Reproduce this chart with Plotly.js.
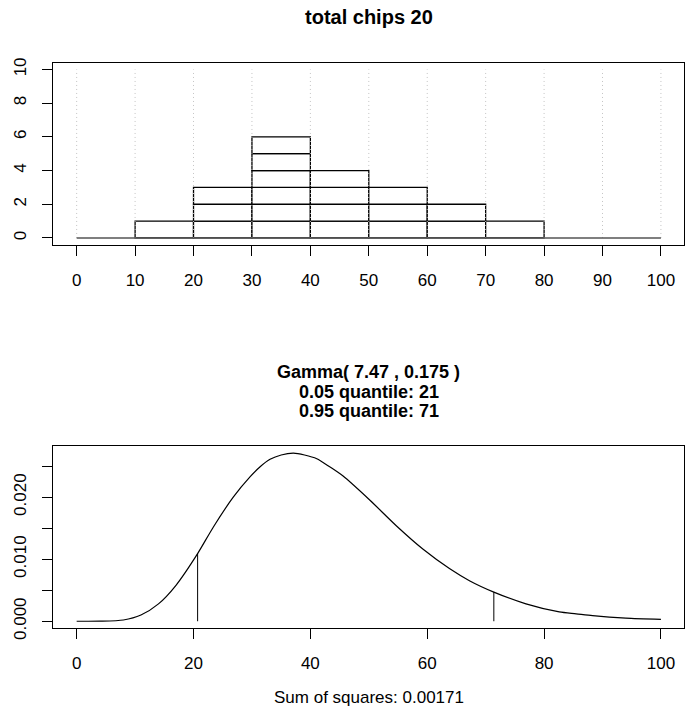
<!DOCTYPE html>
<html>
<head>
<meta charset="utf-8">
<script src="https://cdn.plot.ly/plotly-3.0.1.min.js"></script>
<style>html,body{margin:0;padding:0;background:#fff;}#chart{width:685px;height:715px;}</style>
</head>
<body>
<div id="chart"></div>
<script>
// ---- data ----
var binStarts = [10, 20, 30, 40, 50, 60, 70];
var binCounts = [1, 3, 6, 4, 3, 2, 1];
var binWidth = 10;
var gridX = [0, 10, 20, 30, 40, 50, 60, 70, 80, 90, 100];
var histXTicks = [0, 10, 20, 30, 40, 50, 60, 70, 80, 90, 100];
var histYTicks = [0, 2, 4, 6, 8, 10];

var curveX = [0, 4, 8, 11, 14, 17, 20.7, 23.4, 26.8, 29.7, 31.4, 33.1, 35, 37.1, 39, 41.1, 43.3, 45.6, 50.2, 54.7, 59.3, 63.8, 67.3, 71.4, 76.9, 82.6, 85.5, 88.3, 94, 100];
var curveY = [0, 0.00001, 0.0002, 0.0010, 0.0028, 0.0058, 0.0109, 0.0152, 0.0200, 0.0233, 0.0249, 0.0261, 0.0268, 0.0271, 0.0268, 0.0262, 0.0249, 0.0234, 0.0195, 0.0154, 0.0116, 0.0085, 0.0065, 0.0047, 0.0028, 0.0015, 0.0012, 0.0009, 0.0005, 0.0003];
var quantileX = [20.7, 71.4];
var quantileY = [0.0109, 0.0047];
var densXTicks = [0, 20, 40, 60, 80, 100];
var densYTicks = [0, 0.005, 0.010, 0.015, 0.020, 0.025];
var densYLabels = ['0.000', '', '0.010', '', '0.020', ''];

var titleTop = 'total chips 20';
var titleBottom = ['Gamma( 7.47 , 0.175 )', '0.05 quantile: 21', '0.95 quantile: 71'];
var subBottom = 'Sum of squares: 0.00171';

// ---- build traces ----
var FONT = 'Liberation Sans, Arial, Helvetica, sans-serif';
var chipX = [], chipBase = [], chipY = [], chipW = [];
binStarts.forEach(function (s, i) {
  for (var k = 0; k < binCounts[i]; k++) {
    chipX.push(s + binWidth / 2);
    chipBase.push(k);
    chipY.push(1);
    chipW.push(binWidth);
  }
});
var gx = [], gy = [];
gridX.forEach(function (x) { gx.push(x, x, null); gy.push(0, histYTicks[histYTicks.length - 1], null); });
var qx = [], qy = [];
quantileX.forEach(function (x, i) { qx.push(x, x, null); qy.push(0, quantileY[i], null); });

var traces = [
  {type: 'scatter', mode: 'lines', x: gx, y: gy, xaxis: 'x', yaxis: 'y',
   line: {color: '#c4c4c4', width: 1, dash: '1px,3px'}, hoverinfo: 'skip'},
  {type: 'scatter', mode: 'lines', x: [gridX[0], gridX[gridX.length - 1]], y: [0, 0], xaxis: 'x', yaxis: 'y',
   line: {color: '#555555', width: 1.5}, hoverinfo: 'skip'},
  {type: 'bar', x: chipX, y: chipY, base: chipBase, width: chipW, xaxis: 'x', yaxis: 'y',
   marker: {color: 'rgba(255,255,255,1)', line: {color: '#000000', width: 1.3}}},
  {type: 'scatter', mode: 'lines', x: curveX, y: curveY, xaxis: 'x2', yaxis: 'y2',
   line: {color: '#000000', width: 1.2, shape: 'spline', smoothing: 0.7}},
  {type: 'scatter', mode: 'lines', x: qx, y: qy, xaxis: 'x2', yaxis: 'y2',
   line: {color: '#000000', width: 1}}
];

var W = 685, H = 715;
var boxL = 53.3, boxR = 684.3;
function py(px) { return 1 - px / H; }
var common = {
  showline: true, mirror: true, linecolor: '#000', linewidth: 1,
  ticks: 'outside', ticklen: 10, tickwidth: 1, tickcolor: '#000',
  showgrid: false, zeroline: false, automargin: false,
  tickfont: {family: FONT, size: 17, color: '#000'}
};
function ax(extra) { var o = {}; for (var k in common) o[k] = common[k]; for (var j in extra) o[j] = extra[j]; return o; }

var layout = {
  width: W, height: H,
  margin: {l: 0, r: 0, t: 0, b: 0, pad: 0},
  paper_bgcolor: '#fff', plot_bgcolor: '#fff',
  showlegend: false, barmode: 'overlay',
  font: {family: FONT, color: '#000'},
  xaxis: ax({domain: [boxL / W, boxR / W], range: [-4, 104], tickmode: 'array', tickvals: histXTicks, anchor: 'y', ticklabelstandoff: 10}),
  yaxis: ax({domain: [py(244.7), py(62.7)], range: [-0.4, 10.4], tickmode: 'array', tickvals: histYTicks, tickangle: -90, anchor: 'x', ticklabelstandoff: 10}),
  xaxis2: ax({domain: [boxL / W, boxR / W], range: [-4, 104], tickmode: 'array', tickvals: densXTicks, anchor: 'y2', ticklabelstandoff: 10}),
  yaxis2: ax({domain: [py(628), py(446)], range: [-0.00109, 0.02825], tickmode: 'array', tickvals: densYTicks, ticktext: densYLabels, tickangle: -90, anchor: 'x2', ticklabelstandoff: 10}),
  annotations: [
    {text: '<b>' + titleTop + '</b>', xref: 'paper', yref: 'paper', x: (boxL + boxR) / 2 / W, y: py(17), xanchor: 'center', yanchor: 'middle', showarrow: false, font: {family: FONT, size: 20, color: '#000'}},
    {text: '<b>' + titleBottom[0] + '</b>', xref: 'paper', yref: 'paper', x: (boxL + boxR) / 2 / W, y: py(372), xanchor: 'center', yanchor: 'middle', showarrow: false, font: {family: FONT, size: 18, color: '#000'}},
    {text: '<b>' + titleBottom[1] + '</b>', xref: 'paper', yref: 'paper', x: (boxL + boxR) / 2 / W, y: py(391.5), xanchor: 'center', yanchor: 'middle', showarrow: false, font: {family: FONT, size: 18, color: '#000'}},
    {text: '<b>' + titleBottom[2] + '</b>', xref: 'paper', yref: 'paper', x: (boxL + boxR) / 2 / W, y: py(411), xanchor: 'center', yanchor: 'middle', showarrow: false, font: {family: FONT, size: 18, color: '#000'}},
    {text: subBottom, xref: 'paper', yref: 'paper', x: (boxL + boxR) / 2 / W, y: py(697), xanchor: 'center', yanchor: 'middle', showarrow: false, font: {family: FONT, size: 17, color: '#000'}}
  ]
};

Plotly.newPlot('chart', traces, layout, {displayModeBar: false, staticPlot: true});
</script>
</body>
</html>
